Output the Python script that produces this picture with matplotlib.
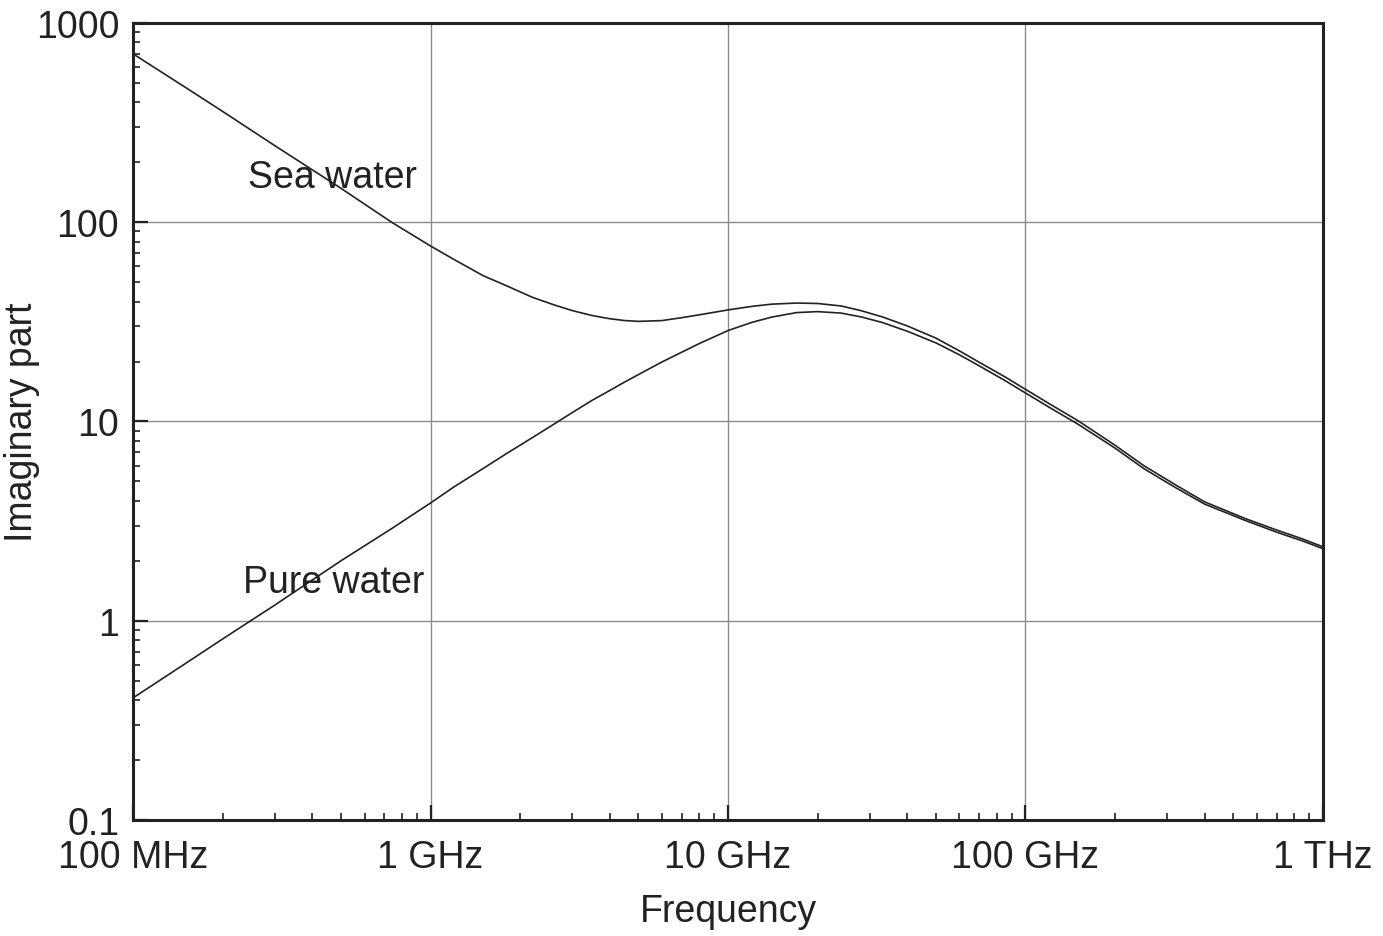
import matplotlib.pyplot as plt
from matplotlib.ticker import FixedLocator, LogLocator, NullFormatter

plt.rcParams["font.family"] = ["Liberation Sans", "DejaVu Sans"]

# frequencies in GHz
freq_ghz = [0.1, 0.15, 0.2, 0.3, 0.5, 0.74, 1, 1.2, 1.5, 1.8, 2.2, 2.6, 3, 3.5,
            4, 4.5, 5, 6, 7, 8, 10, 12, 14, 17, 20, 24, 28, 33, 40, 50, 60, 70,
            85, 100, 120, 150, 200, 250, 320, 400, 550, 700, 850, 1000]
sea_water = [700, 475, 360, 242, 148, 100, 76, 65, 54, 48, 42, 38.5, 36, 34,
             32.8, 32.1, 31.8, 32.1, 33.2, 34.3, 36.3, 37.8, 38.8, 39.3, 39.1,
             38.0, 36.0, 33.5, 30.2, 26.2, 22.6, 19.8, 16.8, 14.5, 12.3, 10.1,
             7.6, 6.0, 4.8, 3.95, 3.25, 2.85, 2.58, 2.35]
pure_water = [0.41, 0.61, 0.81, 1.2, 2.0, 2.9, 3.9, 4.7, 5.8, 6.9, 8.3, 9.7,
              11.1, 12.8, 14.3, 15.8, 17.2, 19.9, 22.3, 24.6, 28.6, 31.4, 33.4,
              35.2, 35.6, 35.0, 33.5, 31.4, 28.4, 24.8, 21.6, 19.0, 16.1, 13.9,
              11.8, 9.7, 7.35, 5.8, 4.65, 3.85, 3.18, 2.78, 2.52, 2.3]

x_ticks = [1e8, 1e9, 1e10, 1e11, 1e12]
x_labels = ["100 MHz", "1 GHz", "10 GHz", "100 GHz", "1 THz"]
y_ticks = [0.1, 1, 10, 100, 1000]
y_labels = ["0.1", "1", "10", "100", "1000"]

fs = 27
ink = "#222222"
fig = plt.figure(figsize=(13.83, 9.37), dpi=100)
ax = fig.add_axes([0.0962, 0.1238, 0.8604, 0.8506])

hz = [f * 1e9 for f in freq_ghz]
ax.plot(hz, sea_water, color=ink, lw=1.2)
ax.plot(hz, pure_water, color=ink, lw=1.2)

ax.set_xscale("log")
ax.set_yscale("log")
ax.set_xlim(1e8, 1e12)
ax.set_ylim(0.1, 1000)

ax.xaxis.set_major_locator(FixedLocator(x_ticks))
ax.set_xticklabels(x_labels)
ax.yaxis.set_major_locator(FixedLocator(y_ticks))
ax.set_yticklabels(y_labels)
ax.xaxis.set_minor_locator(LogLocator(base=10, subs=range(2, 10), numticks=20))
ax.yaxis.set_minor_locator(LogLocator(base=10, subs=range(2, 10), numticks=20))
ax.xaxis.set_minor_formatter(NullFormatter())
ax.yaxis.set_minor_formatter(NullFormatter())

ax.tick_params(which="major", direction="in", length=11, width=1.6,
               labelsize=fs, color=ink, labelcolor=ink)
ax.tick_params(axis="x", which="major", pad=14)
ax.tick_params(axis="y", which="major", pad=10)
ax.tick_params(which="minor", direction="in", length=5, width=1.2, color=ink)

ax.grid(True, which="major", color="#8a8a8a", lw=1.0)
for s in ax.spines.values():
    s.set_linewidth(2.2)
    s.set_color(ink)

ax.set_xlabel("Frequency", fontsize=fs, color=ink)
ax.set_ylabel("Imaginary part", fontsize=fs, color=ink)
ax.xaxis.set_label_coords(0.5, -0.114)
ax.xaxis.label.set_va("center")
ax.yaxis.set_label_coords(-0.093, 0.5)
ax.yaxis.label.set_va("center")

ax.text(2.43e8, 169, "Sea water", fontsize=fs, color=ink, va="center")
ax.text(2.34e8, 1.56, "Pure water", fontsize=fs, color=ink, va="center")

fig.savefig("out.png", dpi=100)
